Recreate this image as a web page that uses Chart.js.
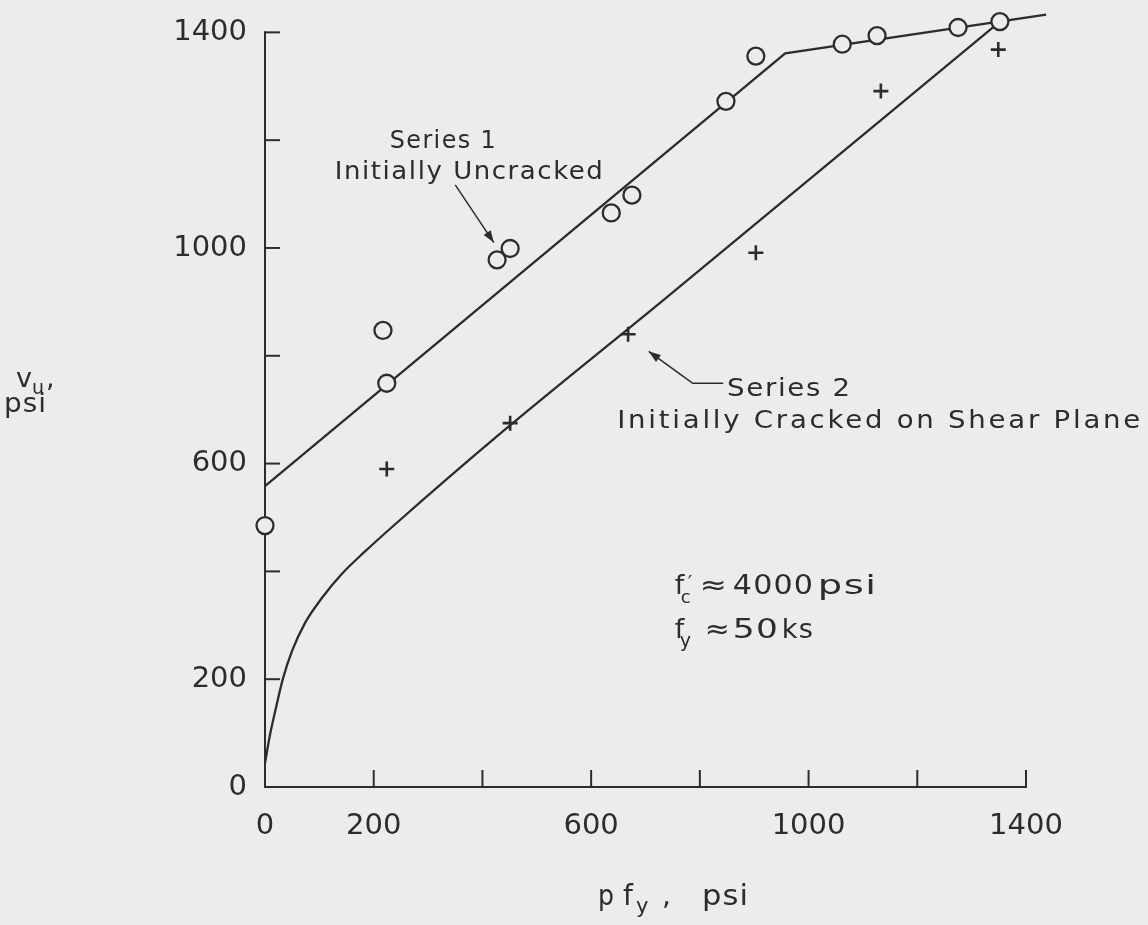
<!DOCTYPE html>
<html><head><meta charset="utf-8">
<script src="https://cdn.jsdelivr.net/npm/chart.js@4.4.0/dist/chart.umd.min.js"></script>
<style>html,body{margin:0;padding:0;background:#ececec;}canvas{display:block}</style>
</head><body>
<canvas id="c" width="1148" height="925"></canvas>
<script>
// ---- data ----
const series1X = [0, 217, 224, 427, 451, 637, 675, 848, 903, 1062, 1126, 1275, 1352];
const series1Y = [485, 847, 749, 978, 999, 1065, 1098, 1272, 1356, 1378, 1394, 1409, 1420];
const series2X = [224, 451, 668, 903, 1133, 1349];
const series2Y = [590, 675, 840, 991, 1291, 1368];
const line1X = [0, 957, 1437];
const line1Y = [558, 1361, 1433];
const line2X = [0, 9, 20, 33, 50, 74, 105, 142, 184, 239, 438, 729, 1352];
const line2Y = [44, 96, 146, 201, 253, 305, 351, 396, 437, 487, 660, 900, 1420];
const tickValues = [0, 200, 400, 600, 800, 1000, 1200, 1400];
const labeledTicks = [0, 200, 600, 1000, 1400];

const ink = '#2c2c2c';
const bg = '#ececec';
const FONT = '"DejaVu Sans", "Noto Sans", sans-serif';
const toPts = (xs, ys) => xs.map((v, i) => ({x: v, y: ys[i]}));

// draw text stretched to a target width (lettering in the figure is wide)
function fitText(ctx, str, x, y, width, size, ls, align) {
  ls = ls || 0;
  ctx.font = size + 'px ' + FONT;
  ctx.letterSpacing = ls + 'px';
  const w = ctx.measureText(str).width - ls;
  const sx = width / w;
  ctx.save();
  ctx.translate(x, y);
  ctx.scale(sx, 1);
  ctx.textAlign = 'left';
  const off = align === 'center' ? -w / 2 : 0;
  ctx.fillText(str, off, 0);
  ctx.restore();
  ctx.letterSpacing = '0px';
}
function txt(ctx, str, x, y, size) {
  ctx.font = size + 'px ' + FONT;
  ctx.letterSpacing = '0px';
  ctx.fillText(str, x, y);
}
function arrow(ctx, x1, y1, x2, y2, head) {
  ctx.beginPath(); ctx.moveTo(x1, y1); ctx.lineTo(x2, y2); ctx.stroke();
  const a = Math.atan2(y2 - y1, x2 - x1);
  ctx.beginPath();
  ctx.moveTo(x2, y2);
  ctx.lineTo(x2 - head * Math.cos(a) + head * 0.35 * Math.sin(a), y2 - head * Math.sin(a) - head * 0.35 * Math.cos(a));
  ctx.lineTo(x2 - head * Math.cos(a) - head * 0.35 * Math.sin(a), y2 - head * Math.sin(a) + head * 0.35 * Math.cos(a));
  ctx.closePath(); ctx.fill();
}

const axesPlugin = {
  id: 'axesLines',
  beforeDatasetsDraw(chart) {
    const {ctx, scales: {x, y}} = chart;
    const x0 = x.getPixelForValue(0), x1 = x.getPixelForValue(1400);
    const y0 = y.getPixelForValue(0), y1 = y.getPixelForValue(1400);
    ctx.save();
    ctx.strokeStyle = ink; ctx.lineWidth = 2; ctx.lineCap = 'square';
    ctx.beginPath(); ctx.moveTo(x0, y1); ctx.lineTo(x0, y0); ctx.lineTo(x1, y0); ctx.stroke();
    ctx.lineCap = 'butt';
    tickValues.forEach(v => {
      const py = y.getPixelForValue(v);
      ctx.beginPath(); ctx.moveTo(x0, py); ctx.lineTo(x0 + 15, py); ctx.stroke();
      const px = x.getPixelForValue(v);
      ctx.beginPath(); ctx.moveTo(px, y0); ctx.lineTo(px, y0 - 17); ctx.stroke();
    });
    ctx.restore();
  }
};

const decor = {
  id: 'decor',
  afterDraw(chart) {
    const {ctx, scales: {x, y}} = chart;
    const P = (xv, yv) => [x.getPixelForValue(xv), y.getPixelForValue(yv)];
    ctx.save();
    ctx.strokeStyle = ink; ctx.fillStyle = ink;
    ctx.textBaseline = 'alphabetic';
    ctx.textAlign = 'left';
    // Series 1 annotation
    let a = P(350, 1117), b = P(421, 1010);
    ctx.lineWidth = 1.5;
    arrow(ctx, a[0], a[1], b[0], b[1], 12);
    let t = P(327, 1202);
    fitText(ctx, 'Series 1', t[0], t[1] + 9, 106, 25, 1.5, 'center');
    t = P(375, 1145);
    fitText(ctx, 'Initially Uncracked', t[0], t[1] + 9, 268, 25, 1.5, 'center');
    // Series 2 annotation
    const tip = P(706, 808), elb = P(787, 749), dend = P(843, 749);
    arrow(ctx, elb[0], elb[1], tip[0], tip[1], 12);
    ctx.beginPath(); ctx.moveTo(elb[0], elb[1]); ctx.lineTo(dend[0], dend[1]); ctx.stroke();
    t = P(850, 743);
    fitText(ctx, 'Series 2', t[0], t[1] + 9, 123, 25, 1.5);
    t = P(648, 682);
    fitText(ctx, 'Initially Cracked on Shear Plane', t[0], t[1] + 9, 523, 25, 2.5);
    // material notes
    let o = P(754, 374);
    let bx = o[0], by = o[1] + 9;
    txt(ctx, 'f', bx, by, 27);
    txt(ctx, 'c', bx + 6, by + 9, 18);
    txt(ctx, '\u2032', bx + 13, by - 5, 20);
    fitText(ctx, '\u2248', bx + 25, by, 27, 27);
    fitText(ctx, '4000', bx + 58, by, 80, 27, 1);
    fitText(ctx, 'psi', bx + 143, by, 58, 27, 1);
    o = P(754, 294);
    bx = o[0]; by = o[1] + 9;
    txt(ctx, 'f', bx, by, 27);
    txt(ctx, 'y', bx + 5, by + 9, 19);
    fitText(ctx, '\u2248', bx + 30, by, 25, 27);
    fitText(ctx, '50', bx + 58, by, 45, 27, 1);
    fitText(ctx, 'ks', bx + 107, by, 31, 27, 1);
    // axis titles
    txt(ctx, 'v', 16, 387, 27);
    txt(ctx, 'u', 32, 394, 19);
    txt(ctx, ',', 46, 387, 27);
    fitText(ctx, 'psi', 4, 412, 42, 27, 1);
    fitText(ctx, 'p', 598, 905, 16, 28);
    txt(ctx, 'f', 623, 905, 28);
    txt(ctx, 'y', 636, 913, 21);
    txt(ctx, ',', 662, 905, 28);
    fitText(ctx, 'psi', 702, 905, 46, 28, 1);
    ctx.restore();
  }
};

// plot range extends a little past the last tick so the end marks are not culled
const X_MAX = 1450, Y_MAX = 1440;
const pxPerX = 761 / 1400, pxPerY = 757 / 1400;

new Chart(document.getElementById('c'), {
  type: 'scatter',
  data: {
    datasets: [
      {
        label: 'Series 1 (initially uncracked)',
        data: toPts(series1X, series1Y),
        pointStyle: 'circle', pointRadius: 8.5, pointBorderWidth: 2.3,
        borderColor: ink, backgroundColor: bg, showLine: false, clip: false
      },
      {
        label: 'Series 2 (initially cracked)',
        data: toPts(series2X, series2Y),
        pointStyle: 'cross', pointRadius: 7.5, pointBorderWidth: 2.6,
        borderColor: ink, backgroundColor: ink, showLine: false, clip: false
      },
      {
        label: 'Series 1 line',
        data: toPts(line1X, line1Y),
        showLine: true, pointRadius: 0, borderColor: ink, borderWidth: 2.3,
        tension: 0, clip: false
      },
      {
        label: 'Series 2 line',
        data: toPts(line2X, line2Y),
        showLine: true, pointRadius: 0, borderColor: ink, borderWidth: 2.3,
        cubicInterpolationMode: 'monotone', clip: false
      }
    ]
  },
  options: {
    responsive: false,
    devicePixelRatio: 1,
    animation: false,
    events: [],
    layout: {padding: {left: 0, top: 787 - Y_MAX * pxPerY, right: 1148 - 265 - X_MAX * pxPerX, bottom: 0}},
    plugins: {legend: {display: false}, tooltip: {enabled: false}},
    scales: {
      x: {
        type: 'linear', min: 0, max: X_MAX,
        afterFit: s => { s.height = 138; s.paddingLeft = 0; s.paddingRight = 0; },
        afterBuildTicks: s => { s.ticks = tickValues.map(v => ({value: v})); },
        grid: {display: false, drawTicks: false},
        border: {display: false},
        ticks: {
          padding: 22, color: ink, maxRotation: 0, autoSkip: false,
          font: {family: FONT, size: 29},
          callback: v => labeledTicks.includes(v) ? String(v) : ''
        }
      },
      y: {
        type: 'linear', min: 0, max: Y_MAX,
        afterFit: s => { s.width = 265; s.paddingTop = 0; s.paddingBottom = 0; },
        afterBuildTicks: s => { s.ticks = tickValues.map(v => ({value: v})); },
        grid: {display: false, drawTicks: false},
        border: {display: false},
        ticks: {
          padding: 18, color: ink, autoSkip: false,
          font: {family: FONT, size: 29},
          callback: v => labeledTicks.includes(v) ? String(v) : ''
        }
      }
    }
  },
  plugins: [axesPlugin, decor]
});
</script>
</body></html>
